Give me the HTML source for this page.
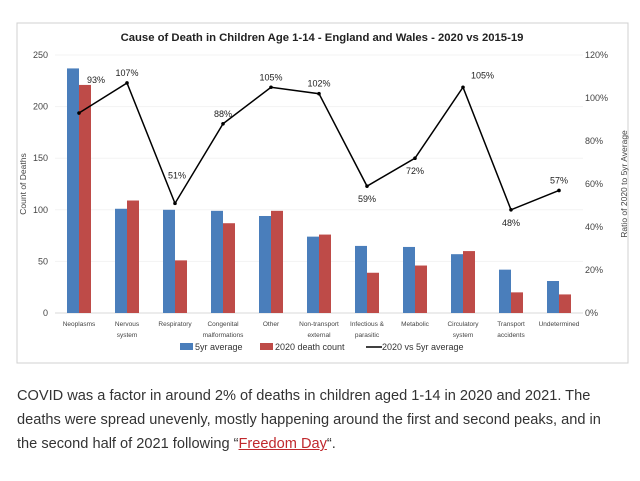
<!DOCTYPE html>
<html><head><meta charset="utf-8"><style>
body{margin:0;background:#fff;width:640px;height:481px;overflow:hidden;font-family:"Liberation Sans",sans-serif}
#chart{position:absolute;left:0;top:0}
#para{position:absolute;left:17px;top:384px;width:600px;font-size:14.6px;line-height:24px;color:#333}
#para a{color:#c0282d;text-decoration:underline}
</style></head><body>
<svg id="chart" width="640" height="375" xmlns="http://www.w3.org/2000/svg" font-family="Liberation Sans, sans-serif"></svg>
<p id="para" style="margin:0">COVID was a factor in around 2% of deaths in children aged 1-14 in 2020 and 2021. The deaths were spread unevenly, mostly happening around the first and second peaks, and in the second half of 2021 following “<a href="#">Freedom Day</a>“.</p>
<script>
const categories=[["Neoplasms"],["Nervous","system"],["Respiratory"],["Congenital","malformations"],["Other"],["Non-transport","external"],["Infectious &","parasitic"],["Metabolic"],["Circulatory","system"],["Transport","accidents"],["Undetermined"]];
const avg5yr=[237,101,100,99,94,74,65,64,57,42,31];
const count2020=[221,109,51,87,99,76,39,46,60,20,18];
const ratio=[93,107,51,88,105,102,59,72,105,48,57];
const leftTicks=[0,50,100,150,200,250];
const rightTicks=[0,20,40,60,80,100,120];
const labelPos=["r","t","tl","t","t","t","b","b","r","b","t"];

const svg=document.getElementById('chart');
const NS="http://www.w3.org/2000/svg";
function el(t,a,p){const e=document.createElementNS(NS,t);for(const k in a)e.setAttribute(k,a[k]);(p||svg).appendChild(e);return e;}
const x0=55,band=48,yTop=55,yBot=313;
const yL=v=>yBot-(v/250)*(yBot-yTop);
const yR=v=>yBot-(v/120)*(yBot-yTop);
const xc=i=>x0+band*(i+0.5);

let f=el('rect',{x:17,y:23,width:611,height:340,fill:'#fff',stroke:'#d0d0d0'});

let t=el('text',{x:322,y:41,'text-anchor':'middle','font-size':11.3,'font-weight':'bold',fill:'#222'});
t.textContent='Cause of Death in Children Age 1-14 - England and Wales - 2020 vs 2015-19';


leftTicks.forEach(v=>{
  let g=el('line',{x1:x0,x2:x0+band*11,y1:yL(v),y2:yL(v),stroke:v?'#f3f3f3':'#d9d9d9'});
  
  let l=el('text',{x:48,y:yL(v)+3,'text-anchor':'end','font-size':9,fill:'#444'});l.textContent=v;
  
});
rightTicks.forEach(v=>{
  let l=el('text',{x:585,y:yR(v)+3,'font-size':9,fill:'#444'});l.textContent=v+'%';
  
});
let ya=el('text',{transform:'translate(26,184) rotate(-90)','text-anchor':'middle','font-size':8.5,fill:'#444'});ya.textContent='Count of Deaths';

let yb=el('text',{transform:'translate(627,184) rotate(-90)','text-anchor':'middle','font-size':8.5,fill:'#444'});yb.textContent='Ratio of 2020 to 5yr Average';


categories.forEach((c,i)=>{
  let b1=el('rect',{x:xc(i)-12,y:yL(avg5yr[i]),width:12,height:yBot-yL(avg5yr[i]),fill:'#4a7ebb'});
  
  let b2=el('rect',{x:xc(i),y:yL(count2020[i]),width:12,height:yBot-yL(count2020[i]),fill:'#be4b48'});
  
  c.forEach((s,k)=>{let l=el('text',{x:xc(i),y:326+k*11,'text-anchor':'middle','font-size':6.5,fill:'#444'});l.textContent=s;
    });
});
let pts=ratio.map((v,i)=>xc(i)+','+yR(v)).join(' ');
let pl=el('polyline',{points:pts,fill:'none',stroke:'#000','stroke-width':1.5});

ratio.forEach((v,i)=>{
  let d=el('circle',{cx:xc(i),cy:yR(v),r:1.8,fill:'#000'});
  
  let p=labelPos[i],lx=xc(i),ly=yR(v)-7,a='middle';
  if(p==='r'){lx=xc(i)+8;ly=yR(v)-30;a='start';}
  if(i===8){ly=yR(v)-9;}
  if(p==='tl'){lx=xc(i)+2;ly=yR(v)-25;}
  if(p==='b'){ly=yR(v)+16;}
  let l=el('text',{x:lx,y:ly,'text-anchor':a,'font-size':9,fill:'#222'});l.textContent=v+'%';
  
});
let lg=[['#4a7ebb','5yr average',180],['#be4b48','2020 death count',260]];
lg.forEach(([c,s,x])=>{
  let r=el('rect',{x:x,y:343,width:13,height:7,fill:c});
  let l=el('text',{x:x+15,y:350,'font-size':9,fill:'#333'});l.textContent=s;
});
let ll=el('line',{x1:366,x2:382,y1:347,y2:347,stroke:'#000','stroke-width':1.5});
let lt=el('text',{x:382,y:350,'font-size':9,fill:'#333'});lt.textContent='2020 vs 5yr average';

</script>
</body></html>
